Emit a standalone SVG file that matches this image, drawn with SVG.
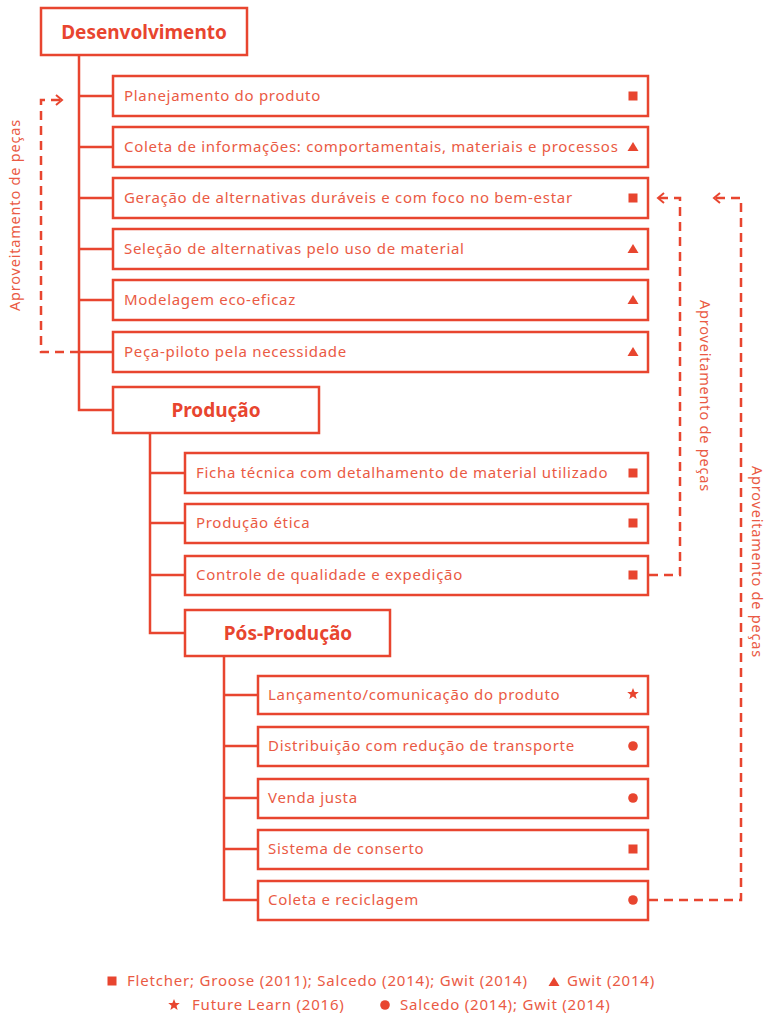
<svg xmlns="http://www.w3.org/2000/svg" width="768" height="1016" viewBox="0 0 768 1016">
<style>
  .box{fill:#fff;stroke:#E8452F;stroke-width:2.5}
  .t{font-family:"Noto Sans","Liberation Sans",sans-serif;font-size:15px;letter-spacing:0.7px;fill:#EA5A44}
  .h{font-family:"Noto Sans","Liberation Sans",sans-serif;font-size:19px;font-weight:bold;fill:#E8452F;text-anchor:middle}
  .ln{fill:none;stroke:#E8452F;stroke-width:2.5}
  .ds{fill:none;stroke:#E8452F;stroke-width:2.5;stroke-dasharray:9 6}
  .ic{fill:#E8452F}
  .lg{font-family:"Noto Sans","Liberation Sans",sans-serif;font-size:15px;letter-spacing:0.8px;fill:#EA5A44}
  .rl{font-family:"Noto Sans","Liberation Sans",sans-serif;font-size:14.5px;letter-spacing:0.8px;fill:#EA5A44;text-anchor:middle}
</style>
<defs>
  <marker id="arr" markerWidth="12" markerHeight="12" refX="8" refY="6" orient="auto" markerUnits="userSpaceOnUse">
    <path d="M2,1 L8,6 L2,11" fill="none" stroke="#E8452F" stroke-width="2" stroke-dasharray="none"/>
  </marker>
  <rect id="sq" x="-4.5" y="-4.5" width="9" height="9"/>
  <path id="tri" d="M0,-5 L5.5,4 L-5.5,4 Z"/>
  <circle id="ci" r="4.8"/>
  <path id="st" d="M0,-6 L1.6,-2 L5.8,-1.9 L2.5,0.8 L3.6,5 L0,2.6 L-3.6,5 L-2.5,0.8 L-5.8,-1.9 L-1.6,-2 Z"/>
</defs>

<g id="connectors">
  <path class="ln" d="M79,55 V410 H113"/>
  <path class="ln" d="M79,96 H113 M79,147 H113 M79,198 H113 M79,249 H113 M79,300 H113 M79,352 H113"/>
  <path class="ln" d="M150,433 V633 H185"/>
  <path class="ln" d="M150,473 H185 M150,523 H185 M150,575 H185"/>
  <path class="ln" d="M224,656 V900 H258"/>
  <path class="ln" d="M224,695 H258 M224,746 H258 M224,798 H258 M224,849 H258"/>
  <path class="ds" d="M79,352 H41 V100 H62" marker-end="url(#arr)"/>
  <path class="ds" d="M649,575 H680 V198 H658" marker-end="url(#arr)"/>
  <path class="ds" d="M649,900 H741 V198 H714" marker-end="url(#arr)"/>
  <text class="rl" transform="translate(20,215) rotate(-90)">Aproveitamento de peças</text>
  <text class="rl" transform="translate(700,396) rotate(90)">Aproveitamento de peças</text>
  <text class="rl" transform="translate(752,562) rotate(90)">Aproveitamento de peças</text>
</g>

<g id="desenvolvimento"><rect class="box" x="41" y="8" width="206" height="47"/><text class="h" x="144" y="39">Desenvolvimento</text></g>

<g id="planejamento"><rect class="box" x="113" y="76" width="535" height="40"/><text class="t" x="124" y="101">Planejamento do produto</text><use href="#sq" class="ic" x="633" y="96"/></g>
<g id="coleta-info"><rect class="box" x="113" y="127" width="535" height="40"/><text class="t" x="124" y="152">Coleta de informações: comportamentais, materiais e processos</text><use href="#tri" class="ic" x="633" y="147"/></g>
<g id="geracao"><rect class="box" x="113" y="178" width="535" height="40"/><text class="t" x="124" y="203">Geração de alternativas duráveis e com foco no bem-estar</text><use href="#sq" class="ic" x="633" y="198"/></g>
<g id="selecao"><rect class="box" x="113" y="229" width="535" height="40"/><text class="t" x="124" y="254">Seleção de alternativas pelo uso de material</text><use href="#tri" class="ic" x="633" y="249"/></g>
<g id="modelagem"><rect class="box" x="113" y="280" width="535" height="40"/><text class="t" x="124" y="305">Modelagem eco-eficaz</text><use href="#tri" class="ic" x="633" y="300"/></g>
<g id="peca-piloto"><rect class="box" x="113" y="332" width="535" height="40"/><text class="t" x="124" y="357">Peça-piloto pela necessidade</text><use href="#tri" class="ic" x="633" y="352"/></g>

<g id="producao"><rect class="box" x="113" y="387" width="206" height="46"/><text class="h" x="216" y="417">Produção</text></g>

<g id="ficha"><rect class="box" x="185" y="453" width="463" height="40"/><text class="t" x="196" y="478">Ficha técnica com detalhamento de material utilizado</text><use href="#sq" class="ic" x="633" y="473"/></g>
<g id="producao-etica"><rect class="box" x="185" y="504" width="463" height="39"/><text class="t" x="196" y="528">Produção ética</text><use href="#sq" class="ic" x="633" y="523"/></g>
<g id="controle"><rect class="box" x="185" y="556" width="463" height="39"/><text class="t" x="196" y="580">Controle de qualidade e expedição</text><use href="#sq" class="ic" x="633" y="575"/></g>

<g id="pos-producao"><rect class="box" x="185" y="610" width="205" height="46"/><text class="h" x="288" y="640">Pós-Produção</text></g>

<g id="lancamento"><rect class="box" x="258" y="676" width="390" height="38"/><text class="t" x="268" y="700">Lançamento/comunicação do produto</text><use href="#st" class="ic" x="633" y="694"/></g>
<g id="distribuicao"><rect class="box" x="258" y="727" width="390" height="39"/><text class="t" x="268" y="751">Distribuição com redução de transporte</text><use href="#ci" class="ic" x="633" y="746"/></g>
<g id="venda"><rect class="box" x="258" y="779" width="390" height="39"/><text class="t" x="268" y="803">Venda justa</text><use href="#ci" class="ic" x="633" y="798"/></g>
<g id="conserto"><rect class="box" x="258" y="830" width="390" height="39"/><text class="t" x="268" y="854">Sistema de conserto</text><use href="#sq" class="ic" x="633" y="849"/></g>
<g id="coleta-reciclagem"><rect class="box" x="258" y="881" width="390" height="39"/><text class="t" x="268" y="905">Coleta e reciclagem</text><use href="#ci" class="ic" x="633" y="900"/></g>

<g id="legend">
  <use href="#sq" class="ic" x="112" y="981"/>
  <text class="lg" x="127" y="986">Fletcher; Groose (2011); Salcedo (2014); Gwit (2014)</text>
  <use href="#tri" class="ic" x="554" y="982"/>
  <text class="lg" x="567" y="986">Gwit (2014)</text>
  <use href="#st" class="ic" x="174" y="1005"/>
  <text class="lg" x="192" y="1010">Future Learn (2016)</text>
  <use href="#ci" class="ic" x="385" y="1005"/>
  <text class="lg" x="400" y="1010">Salcedo (2014); Gwit (2014)</text>
</g>
</svg>
